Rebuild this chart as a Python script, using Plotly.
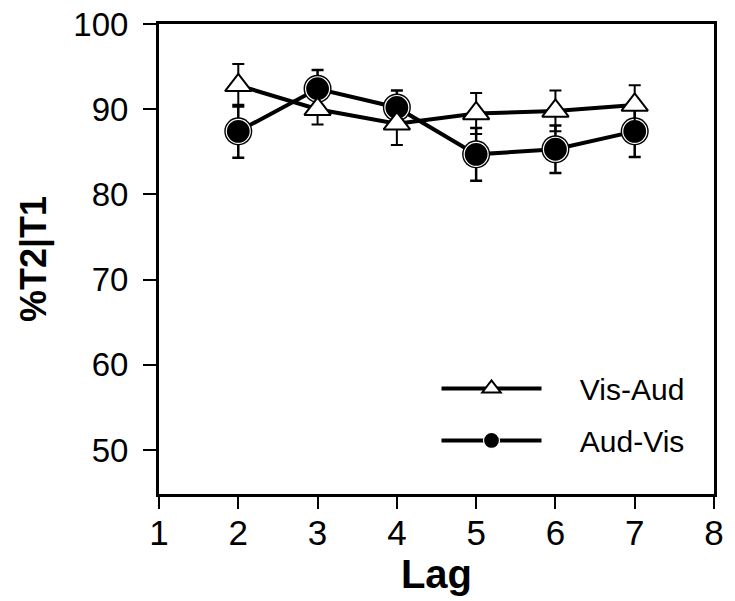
import plotly.graph_objects as go

lags = [2, 3, 4, 5, 6, 7]
vis_aud = [92.8, 90.0, 88.3, 89.5, 89.8, 90.5]
vis_aud_err = [2.5, 1.8, 2.5, 2.4, 2.4, 2.3]
aud_vis = [87.4, 92.4, 90.2, 84.7, 85.3, 87.4]
aud_vis_err = [3.1, 2.2, 2.0, 3.1, 2.8, 3.0]

x_ticks = [1, 2, 3, 4, 5, 6, 7, 8]
y_ticks = [50, 60, 70, 80, 90, 100]

FONT = "Liberation Sans, Arial, sans-serif"
PAD = "\u00a0\u00a0\u00a0\u00a0"

fig = go.Figure()

# shadow ring under filled circles
fig.add_trace(go.Scatter(
    x=lags, y=aud_vis, mode="markers",
    marker=dict(symbol="circle", size=28, color="black", line=dict(width=0)),
    showlegend=False, hoverinfo="skip"))

fig.add_trace(go.Scatter(
    x=lags, y=aud_vis, mode="lines+markers", name=PAD + "Aud-Vis",
    line=dict(color="black", width=4),
    marker=dict(symbol="circle", size=24, color="black", line=dict(color="white", width=1.2)),
    error_y=dict(type="data", array=aud_vis_err, color="black", thickness=2.5, width=6),
    legendrank=2, legendgroup="b"))

fig.add_trace(go.Scatter(
    x=lags, y=vis_aud, mode="lines+markers", name=PAD + "Vis-Aud",
    line=dict(color="black", width=4),
    marker=dict(symbol="triangle-up", size=23, color="white", line=dict(color="black", width=2)),
    error_y=dict(type="data", array=vis_aud_err, color="black", thickness=2, width=6),
    legendrank=1, legendgroup="a"))

fig.update_layout(
    width=735, height=601,
    margin=dict(l=159, r=21, t=24, b=107),
    paper_bgcolor="white", plot_bgcolor="white",
    font=dict(family=FONT, color="black"),
    showlegend=True,
    legend=dict(x=0.5, y=0.28, xanchor="left", yanchor="top",
                font=dict(size=30, family=FONT), bgcolor="rgba(0,0,0,0)",
                itemwidth=100, traceorder="grouped", tracegroupgap=10),
    xaxis=dict(range=[1, 8], tickvals=x_ticks, ticks="outside", ticklen=12, tickwidth=2,
               tickcolor="black", showline=True, linewidth=3, linecolor="black", mirror=True,
               showgrid=False, zeroline=False, tickfont=dict(size=35, family=FONT),
               ticklabelstandoff=-6, automargin="bottom",
               title=dict(text="<b>Lag</b>", font=dict(size=40, family=FONT), standoff=0)),
    yaxis=dict(range=[44.84, 100], tickvals=y_ticks, ticks="outside", ticklen=13, tickwidth=2,
               tickcolor="black", showline=True, linewidth=3, linecolor="black", mirror=True,
               showgrid=False, zeroline=False, tickfont=dict(size=33, family=FONT),
               ticklabelstandoff=8, automargin="left",
               title=dict(text="<b>%T2|T1</b>", font=dict(size=36, family=FONT), standoff=16)),
)

fig.write_html("out.html", config={"displayModeBar": False},
               post_script="document.body.style.margin='0';document.body.style.overflow='hidden';window.dispatchEvent(new Event('resize'));")
